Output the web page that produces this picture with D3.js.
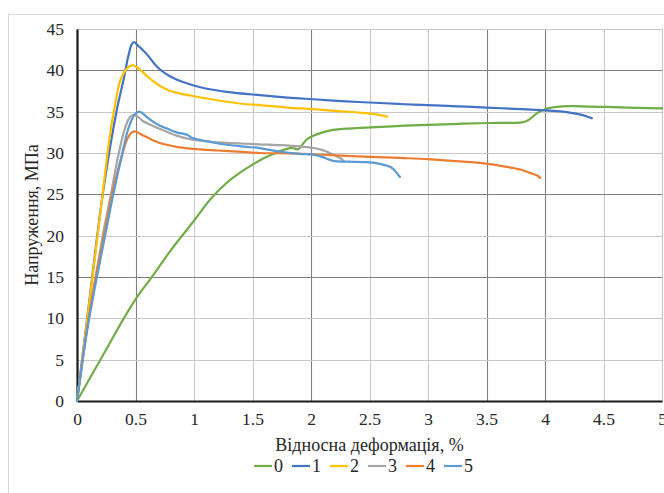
<!DOCTYPE html>
<html><head><meta charset="utf-8">
<script src="https://cdn.jsdelivr.net/npm/d3@7/dist/d3.min.js"></script>
<style>body{margin:0;background:#fff;} svg{display:block;} svg text{font-family:"Liberation Serif","Times New Roman",Times,"DejaVu Serif",serif;}</style>
</head><body>
<svg id="c" width="664" height="493"></svg>
<script>
const xTicks = [0,0.5,1,1.5,2,2.5,3,3.5,4,4.5,5];
const yTicks = [0,5,10,15,20,25,30,35,40,45];
const xDarkTicks = [0.5,2,3.5,4];
const yDarkTicks = [40,25,15];
const seriesNames = ["0","1","2","3","4","5"];
const seriesColors = ["#70ad47","#4472c4","#ffc000","#a5a5a5","#ed7d31","#5b9bd5"];

const s0 = [[0,0],[0.1,2.5],[0.2,5],[0.3,7.5],[0.4,10],[0.5,12.3],[0.65,15.2],[0.8,18.2],[1.0,21.8],[1.14,24.4],[1.28,26.4],[1.39,27.6],[1.5,28.6],[1.6,29.4],[1.68,29.9],[1.76,30.35],[1.82,30.6],[1.86,30.55],[1.89,30.45],[1.93,31.1],[1.97,31.7],[2.02,32.1],[2.1,32.5],[2.19,32.8],[2.3,32.95],[2.42,33.05],[2.6,33.15],[2.8,33.3],[3.0,33.4],[3.2,33.5],[3.44,33.6],[3.6,33.65],[3.8,33.7],[3.86,34.0],[3.93,34.8],[4.0,35.3],[4.06,35.5],[4.15,35.65],[4.3,35.65],[4.58,35.55],[4.8,35.45],[5.0,35.4]];
const s1 = [[0,0],[0.1,11.5],[0.22,25],[0.34,35.2],[0.4,39],[0.44,41.8],[0.47,43.2],[0.49,43.4],[0.52,43.0],[0.56,42.5],[0.6,41.9],[0.65,41.0],[0.71,40.1],[0.78,39.4],[0.85,38.9],[0.99,38.2],[1.1,37.8],[1.28,37.4],[1.56,37.0],[1.8,36.7],[2.02,36.5],[2.3,36.25],[2.59,36.05],[2.8,35.9],[3.0,35.8],[3.25,35.65],[3.5,35.5],[3.8,35.3],[4.0,35.15],[4.15,35.0],[4.25,34.8],[4.33,34.55],[4.4,34.2]];
const s2 = [[0,0],[0.1,11.3],[0.2,22.8],[0.28,32],[0.33,36.2],[0.37,38.8],[0.42,40.1],[0.45,40.5],[0.48,40.6],[0.52,40.3],[0.56,39.8],[0.6,39.3],[0.65,38.7],[0.71,38.1],[0.78,37.6],[0.85,37.3],[0.99,36.9],[1.15,36.5],[1.28,36.2],[1.45,35.9],[1.56,35.8],[1.8,35.5],[2.02,35.3],[2.2,35.1],[2.4,34.9],[2.55,34.7],[2.65,34.4]];
const s3 = [[0,0],[0.1,10],[0.16,15],[0.22,20],[0.29,25],[0.35,29.5],[0.41,33],[0.45,34.3],[0.48,34.6],[0.52,34.4],[0.56,33.9],[0.6,33.6],[0.71,32.9],[0.85,32.1],[0.99,31.6],[1.15,31.35],[1.33,31.2],[1.56,31.05],[1.74,30.95],[1.9,30.8],[2.02,30.6],[2.1,30.35],[2.16,30.0],[2.22,29.6],[2.26,29.3],[2.28,29.0]];
const s4 = [[0,0],[0.1,10],[0.16,15],[0.23,20],[0.3,25],[0.38,29.5],[0.43,31.7],[0.47,32.5],[0.5,32.6],[0.54,32.3],[0.6,31.9],[0.71,31.2],[0.85,30.75],[0.99,30.5],[1.2,30.3],[1.45,30.1],[1.56,30.0],[1.8,29.95],[2.02,29.85],[2.4,29.6],[2.76,29.4],[3.0,29.25],[3.2,29.05],[3.44,28.8],[3.6,28.5],[3.79,28.0],[3.87,27.6],[3.93,27.3],[3.96,27.0]];
const s5 = [[0,0],[0.08,8],[0.17,15],[0.24,20],[0.31,25],[0.38,29.5],[0.44,33],[0.49,34.6],[0.53,35.0],[0.57,34.7],[0.6,34.3],[0.65,33.8],[0.71,33.3],[0.78,32.9],[0.85,32.5],[0.94,32.2],[0.99,31.8],[1.05,31.6],[1.15,31.3],[1.28,31.0],[1.45,30.75],[1.56,30.6],[1.74,30.15],[1.9,29.9],[2.02,29.8],[2.1,29.5],[2.19,29.05],[2.3,28.95],[2.48,28.9],[2.6,28.65],[2.68,28.3],[2.72,27.8],[2.76,27.1]];
const seriesData = [s0,s1,s2,s3,s4,s5];

const svg = d3.select("#c");
const M = {left:77, right:662, top:29, bottom:401};
const x = d3.scaleLinear().domain([0,5]).range([M.left, M.right]);
const y = d3.scaleLinear().domain([0,45]).range([M.bottom, M.top]);
const font = '"Liberation Serif","Times New Roman",Times,"DejaVu Serif",serif';
const txtCol = "#262626";

// chart border
svg.append("rect").attr("x",8.5).attr("y",14.5).attr("width",700).attr("height",520)
  .attr("fill","none").attr("stroke","#d9d9d9").attr("stroke-width",1);

// gridlines
const isDark = (arr,v)=>arr.some(a=>Math.abs(a-v)<1e-9);
svg.append("g").selectAll("line").data(xTicks.filter(t=>t>0)).join("line")
  .attr("x1",d=>Math.round(x(d))+0.5).attr("x2",d=>Math.round(x(d))+0.5)
  .attr("y1",M.top).attr("y2",M.bottom)
  .attr("stroke",d=>isDark(xDarkTicks,d)?"#808080":"#c8c8c8").attr("stroke-width",1.1);
svg.append("g").selectAll("line").data(yTicks.filter(t=>t>0)).join("line")
  .attr("y1",d=>Math.round(y(d))+0.5).attr("y2",d=>Math.round(y(d))+0.5)
  .attr("x1",M.left).attr("x2",M.right)
  .attr("stroke",d=>isDark(yDarkTicks,d)?"#808080":"#c8c8c8").attr("stroke-width",1.1);

// axes
const gx = svg.append("g").attr("transform",`translate(0,${M.bottom})`)
  .call(d3.axisBottom(x).tickValues(xTicks).tickSize(0).tickPadding(12).tickFormat(d3.format("")));
gx.attr("font-family",null);
gx.select(".domain").attr("stroke","#1a1a1a").attr("stroke-width",2.2);
gx.selectAll("text").style("font-family",font).style("font-size","17.5px").attr("fill",txtCol);
const gy = svg.append("g").attr("transform",`translate(${M.left},0)`)
  .call(d3.axisLeft(y).tickValues(yTicks).tickSize(0).tickPadding(13).tickFormat(d3.format("")));
gy.attr("font-family",null);
gy.select(".domain").attr("stroke","#1a1a1a").attr("stroke-width",2.2);
gy.selectAll("text").style("font-family",font).style("font-size","17.5px").attr("fill",txtCol);

// lines
const line = d3.line().x(d=>x(d[0])).y(d=>y(d[1])).curve(d3.curveCatmullRom.alpha(0.5));
svg.append("g").selectAll("path").data(seriesData).join("path")
  .attr("d",line).attr("fill","none")
  .attr("stroke",(d,i)=>seriesColors[i]).attr("stroke-width",2.2)
  .attr("stroke-linejoin","round").attr("stroke-linecap","round");

// titles
svg.append("text").attr("x",(M.left+M.right)/2).attr("y",451).attr("text-anchor","middle")
  .style("font-family",font).style("font-size","18px").attr("fill",txtCol).text("Відносна деформація, %");
svg.append("text").attr("transform",`translate(38,${(M.top+M.bottom)/2}) rotate(-90)`)
  .attr("text-anchor","middle").style("font-family",font).style("font-size","18px").attr("fill",txtCol)
  .text("Напруження, МПа");

// legend
const lg = svg.append("g").attr("transform","translate(254,466)");
const items = lg.selectAll("g").data(seriesNames).join("g").attr("transform",(d,i)=>`translate(${i*38},0)`);
items.append("line").attr("x1",0).attr("x2",18).attr("y1",0).attr("y2",0)
  .attr("stroke",(d,i)=>seriesColors[i]).attr("stroke-width",2.2);
items.append("text").attr("x",20).attr("y",6).style("font-family",font).style("font-size","18px").attr("fill",txtCol).text(d=>d);
</script>
</body></html>
